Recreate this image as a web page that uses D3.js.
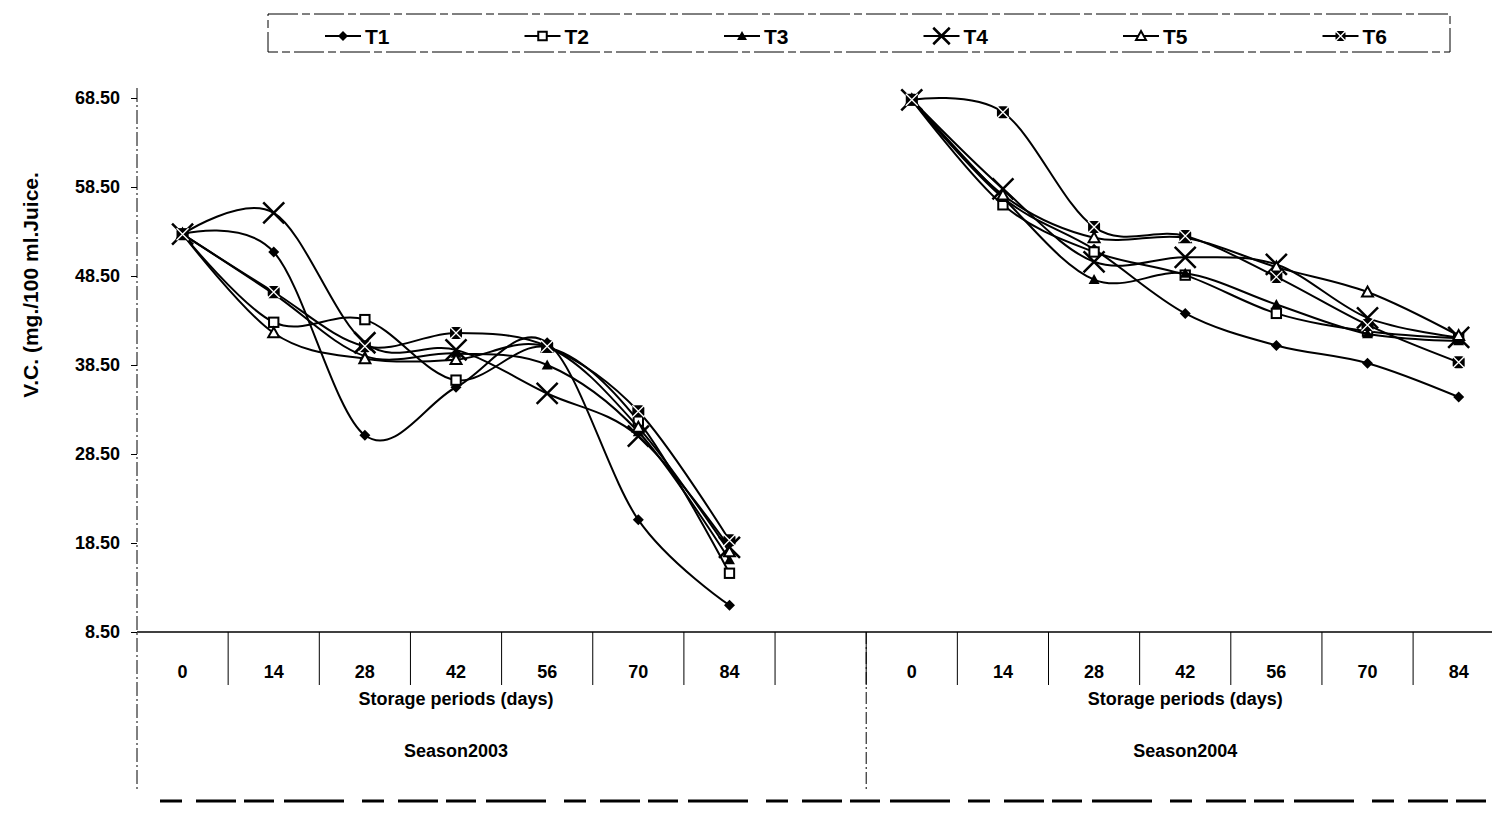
<!DOCTYPE html>
<html>
<head>
<meta charset="utf-8">
<script src="https://cdn.jsdelivr.net/npm/d3@7"></script>
<style>
  body { margin: 0; background: #fff; }
  svg { font-family: "Liberation Sans", Arial, sans-serif; font-weight: bold; }
</style>
</head>
<body>
<svg id="chart" width="1492" height="814"></svg>
<script>
// categories: two seasons with an empty slot between them
const days = ["0", "14", "28", "42", "56", "70", "84"];
const categories = days.concat([""], days);
const seasons = ["Season2003", "Season2004"];
const yTicks = [8.5, 18.5, 28.5, 38.5, 48.5, 58.5, 68.5];

// V.C. values (season 2003, then season 2004)
const t1_2003 = [53.2, 51.2, 30.6, 36.0, 41.0, 21.1, 11.5];
const t2_2003 = [53.2, 43.3, 43.6, 36.8, 40.5, 32.2, 15.1];
const t3_2003 = [53.2, 46.5, 39.5, 39.8, 38.5, 31.0, 16.6];
const t4_2003 = [53.2, 55.6, 41.0, 40.2, 35.3, 30.5, 18.0];
const t5_2003 = [53.2, 42.1, 39.2, 39.1, 40.5, 31.5, 17.5];
const t6_2003 = [53.2, 46.7, 40.6, 42.1, 40.6, 33.3, 18.8];

const t1_2004 = [68.3, 57.3, 51.5, 44.3, 40.7, 38.7, 34.9];
const t2_2004 = [68.3, 56.5, 51.2, 48.6, 44.3, 42.3, 41.5];
const t3_2004 = [68.3, 57.3, 48.1, 48.8, 45.3, 42.0, 41.2];
const t4_2004 = [68.3, 58.3, 50.1, 50.6, 49.8, 43.8, 41.6];
const t5_2004 = [68.3, 57.6, 52.8, 52.8, 49.5, 46.7, 41.8];
const t6_2004 = [68.3, 66.9, 54.0, 53.0, 48.4, 43.0, 38.8];

const seriesNames = ["T1", "T2", "T3", "T4", "T5", "T6"];
const series2003 = [t1_2003, t2_2003, t3_2003, t4_2003, t5_2003, t6_2003];
const series2004 = [t1_2004, t2_2004, t3_2004, t4_2004, t5_2004, t6_2004];

const svg = d3.select("#chart");

const plotLeft = 137, plotRight = 137 + 15 * 91.15;
const plotTop = 98, plotBottom = 632;

const x = d3.scaleBand().domain(d3.range(categories.length)).range([plotLeft, plotRight]).padding(0);
const y = d3.scaleLinear().domain([8.5, 68.5]).range([plotBottom, plotTop]);

// marker symbols
function drawMarker(g, name, s) {
    if (name === "T1") {
        g.append("path").attr("d", `M0,${-s}L${s},0L0,${s}L${-s},0Z`).attr("fill", "#000");
    } else if (name === "T2") {
        g.append("rect").attr("x", -s * 0.85).attr("y", -s * 0.85).attr("width", s * 1.7).attr("height", s * 1.7)
            .attr("fill", "#fff").attr("stroke", "#000").attr("stroke-width", 2);
    } else if (name === "T3") {
        g.append("path").attr("d", `M0,${-s}L${s},${s * 0.8}L${-s},${s * 0.8}Z`).attr("fill", "#000");
    } else if (name === "T4") {
        const k = s * 1.5;
        g.append("path").attr("d", `M${-k},${-k}L${k},${k}M${-k},${k}L${k},${-k}`)
            .attr("stroke", "#000").attr("stroke-width", 2.5);
    } else if (name === "T5") {
        g.append("path").attr("d", `M0,${-s}L${s},${s * 0.8}L${-s},${s * 0.8}Z`)
            .attr("fill", "#fff").attr("stroke", "#000").attr("stroke-width", 2);
    } else {
        // filled box crossed by a white X
        g.append("rect").attr("x", -s).attr("y", -s).attr("width", 2 * s).attr("height", 2 * s)
            .attr("rx", s * 0.5).attr("fill", "#000");
        g.append("path").attr("d", `M${-s},${-s}L${s},${s}M${-s},${s}L${s},${-s}`)
            .attr("stroke", "#fff").attr("stroke-width", 1.3);
    }
}

// y axis
const yAxis = svg.append("g").attr("transform", `translate(${plotLeft},0)`)
    .call(d3.axisLeft(y).tickValues(yTicks).tickFormat(d3.format(".2f")).tickSize(6).tickSizeOuter(0));
yAxis.select(".domain").remove();
yAxis.selectAll("line").attr("stroke", "#000");
yAxis.selectAll("text").attr("font-size", 18).attr("font-weight", "bold").attr("fill", "#000").attr("x", -17);

svg.append("line").attr("x1", plotLeft).attr("x2", plotLeft).attr("y1", 88).attr("y2", 790)
    .attr("stroke", "#000").attr("stroke-width", 1).attr("stroke-dasharray", "14,3,2,3");

svg.append("text").attr("transform", "translate(38,285) rotate(-90)")
    .attr("text-anchor", "middle").attr("font-size", 21).text("V.C. (mg./100 ml.Juice.");

// category axis
svg.append("line").attr("x1", plotLeft).attr("x2", 1492).attr("y1", plotBottom).attr("y2", plotBottom)
    .attr("stroke", "#000").attr("stroke-width", 1.3);

const bounds = d3.range(1, categories.length + 1).map(i => plotLeft + i * x.bandwidth());
svg.append("g").selectAll("line").data(bounds).join("line")
    .attr("x1", d => d).attr("x2", d => d).attr("y1", plotBottom).attr("y2", 685)
    .attr("stroke", "#000").attr("stroke-width", 1);

const divX = x(8);
svg.append("line").attr("x1", divX).attr("x2", divX).attr("y1", plotBottom).attr("y2", 790)
    .attr("stroke", "#000").attr("stroke-width", 1).attr("stroke-dasharray", "12,3,2,3");

svg.append("g").selectAll("text").data(categories).join("text")
    .attr("x", (d, i) => x(i) + x.bandwidth() / 2).attr("y", 678)
    .attr("text-anchor", "middle").attr("font-size", 18).text(d => d);

[0, 8].forEach((start, k) => {
    const cx = (x(start) + x(start + 6) + x.bandwidth()) / 2;
    svg.append("text").attr("x", cx).attr("y", 705).attr("text-anchor", "middle")
        .attr("font-size", 18).text("Storage periods (days)");
    svg.append("text").attr("x", cx).attr("y", 757).attr("text-anchor", "middle")
        .attr("font-size", 18).text(seasons[k]);
});

svg.append("line").attr("x1", 160).attr("x2", 1492).attr("y1", 801).attr("y2", 801)
    .attr("stroke", "#000").attr("stroke-width", 3).attr("stroke-dasharray", "22,14,40,8,30,10,60,18");

// series
const line = d3.line().x(d => d[0]).y(d => d[1]).curve(d3.curveCatmullRom.alpha(0));
const markerSize = { T1: 5.5, T2: 5.5, T3: 5.5, T4: 7, T5: 5.5, T6: 6 };

seriesNames.forEach((name, si) => {
    [[series2003[si], 0], [series2004[si], 8]].forEach(([vals, off]) => {
        const pts = vals.map((v, i) => [x(i + off) + x.bandwidth() / 2, y(v)]);
        svg.append("path").attr("d", line(pts)).attr("fill", "none")
            .attr("stroke", "#000").attr("stroke-width", 2);
        pts.forEach(p => {
            const g = svg.append("g").attr("transform", `translate(${p[0]},${p[1]})`);
            drawMarker(g, name, markerSize[name]);
        });
    });
});

// legend
svg.append("rect").attr("x", 268).attr("y", 14).attr("width", 1182).attr("height", 38)
    .attr("fill", "#fff").attr("stroke", "#000").attr("stroke-width", 1).attr("stroke-dasharray", "30,4,8,4");

const lg = svg.append("g").selectAll("g").data(seriesNames).join("g")
    .attr("transform", (d, i) => `translate(${325 + i * 199.5},36)`);
lg.append("line").attr("x1", 0).attr("x2", 36).attr("stroke", "#000").attr("stroke-width", 2);
lg.each(function (d) {
    const g = d3.select(this).append("g").attr("transform", "translate(18,0)");
    drawMarker(g, d, d === "T4" ? 5.5 : 5);
});
lg.append("text").attr("x", 40).attr("y", 8).attr("font-size", 21).text(d => d);
</script>
</body>
</html>
